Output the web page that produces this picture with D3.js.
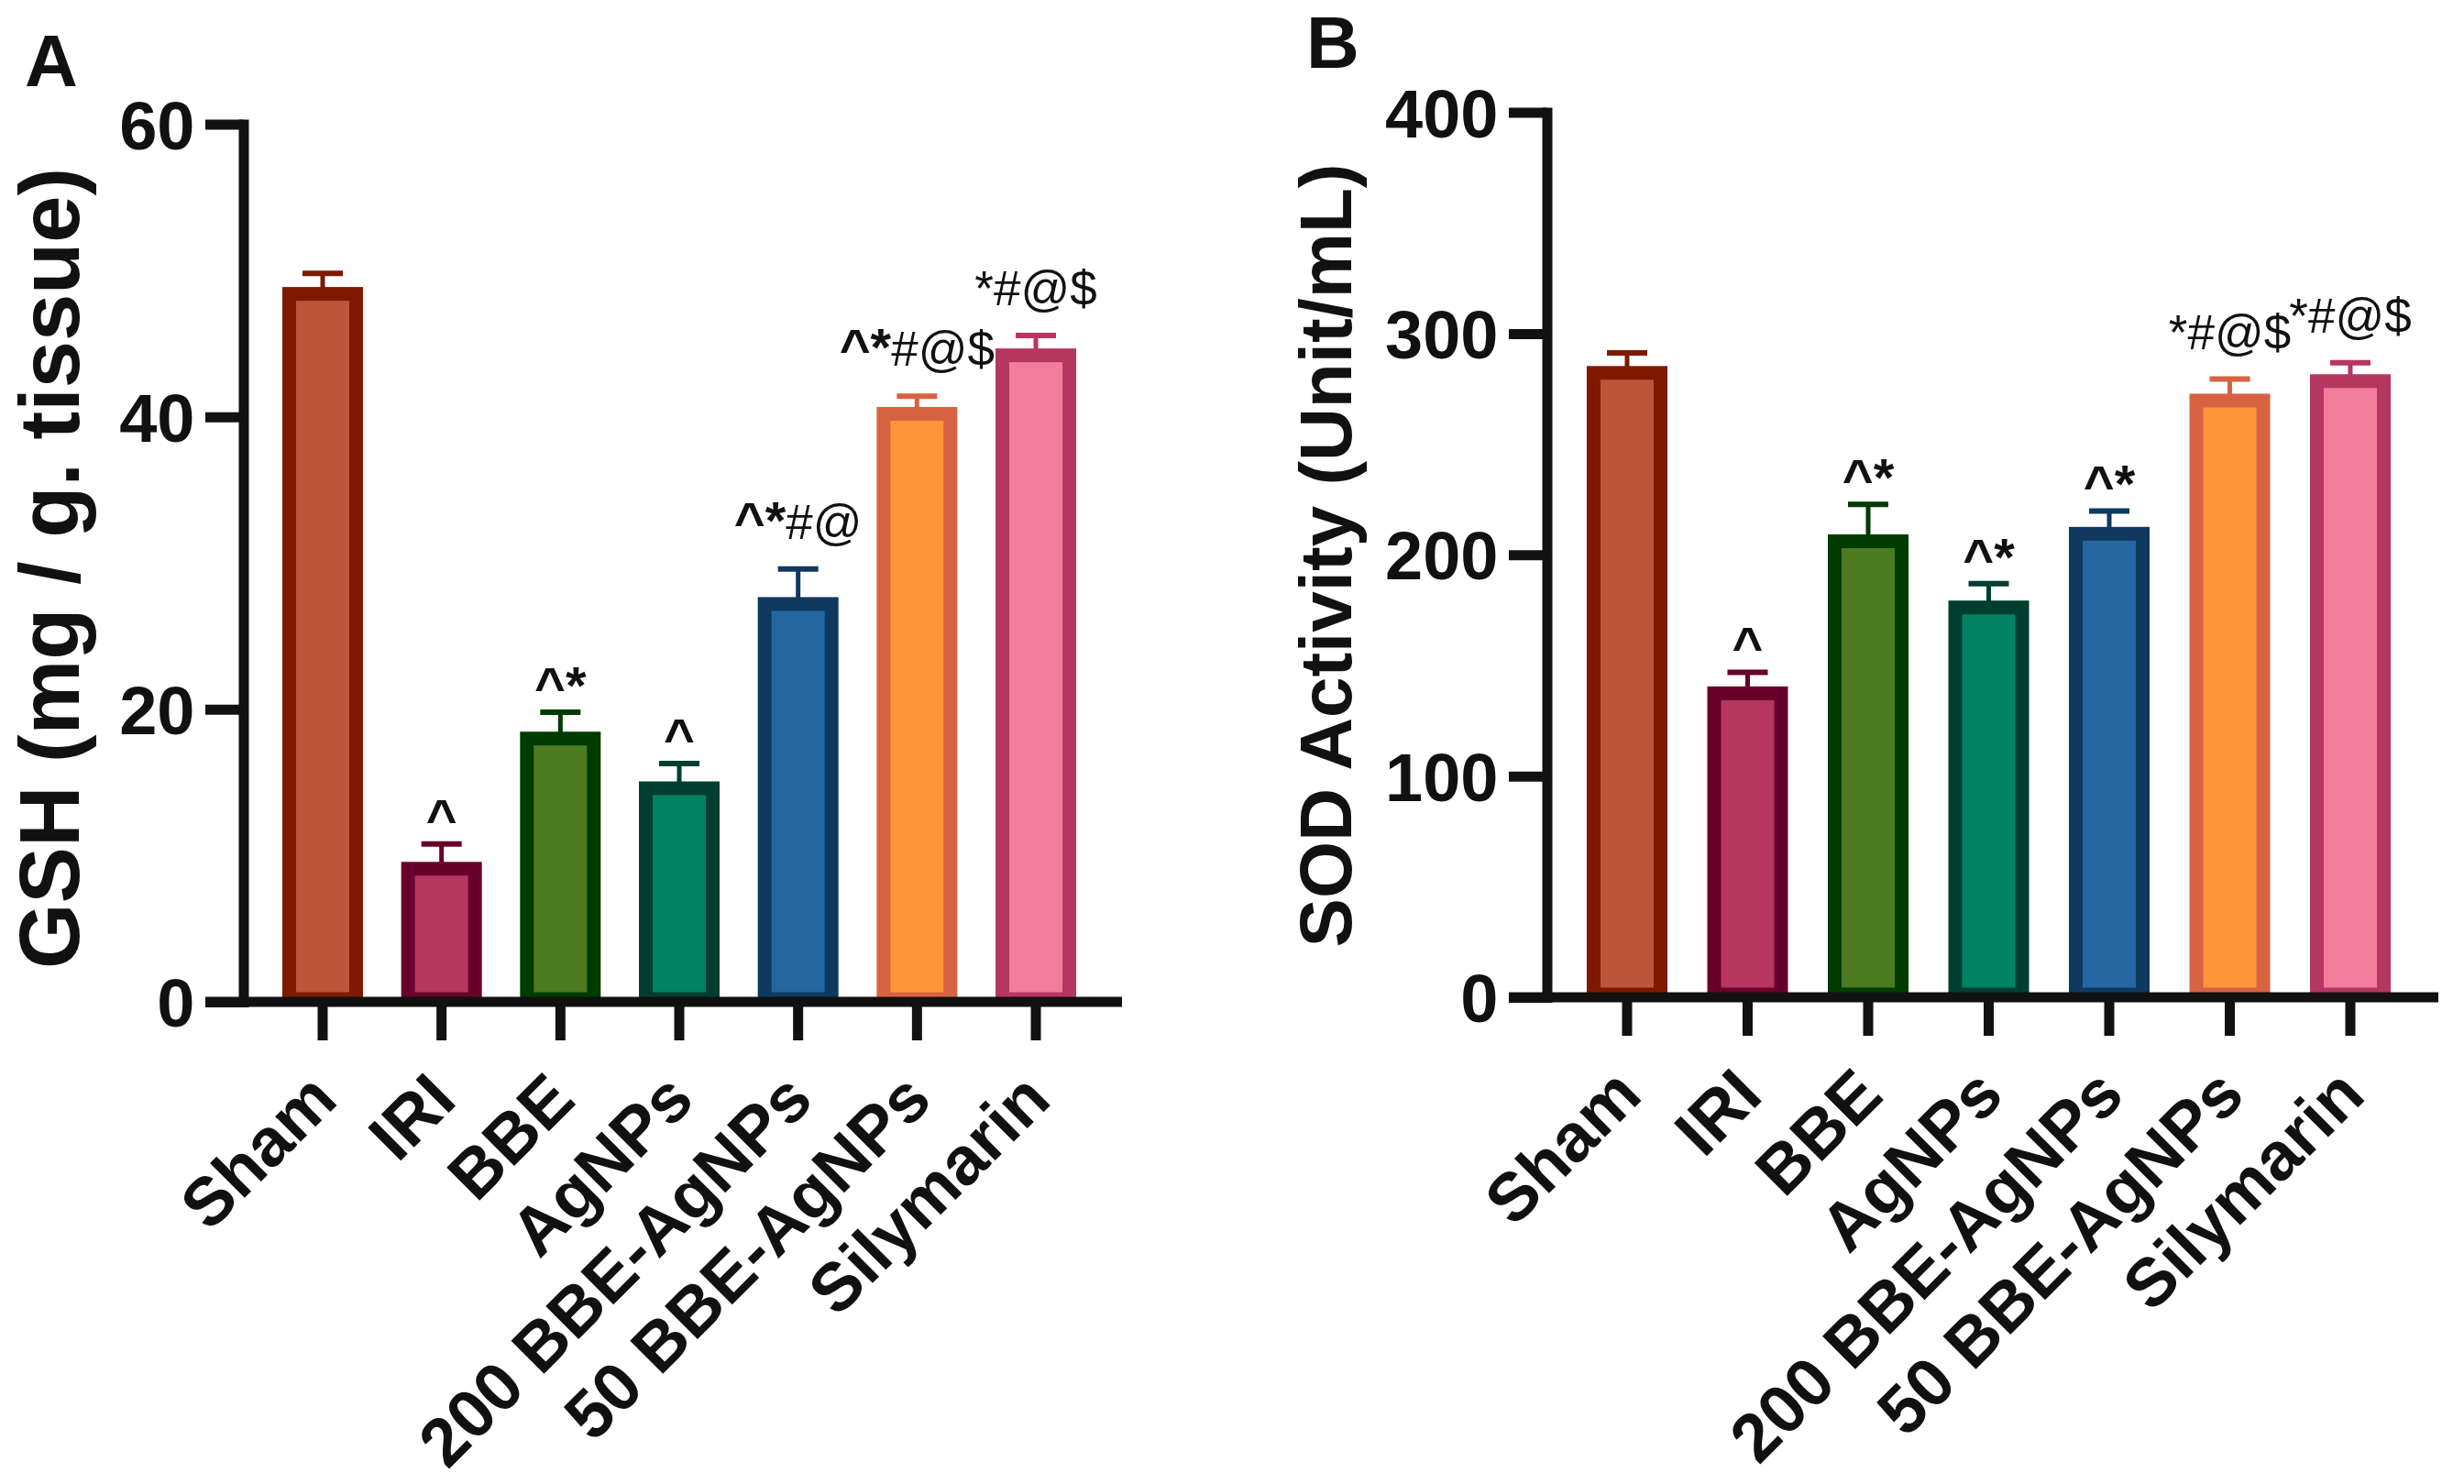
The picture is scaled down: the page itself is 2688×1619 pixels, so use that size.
<!DOCTYPE html>
<html>
<head>
<meta charset="utf-8">
<script src="https://cdn.jsdelivr.net/npm/d3@7"></script>
<style>
  html, body { margin: 0; padding: 0; background: #fff; }
  svg { display: block; }
</style>
</head>
<body>
<svg id="chart"></svg>
<script>
/* Two GraphPad-style bar panels: GSH (A) and SOD activity (B). */
var categories = ["Sham", "IRI", "BBE", "AgNPs", "200 BBE-AgNPs", "50 BBE-AgNPs", "Silymarin"];

var gshMean = [48.4, 9.1, 18.0, 14.6, 27.2, 40.2, 44.2];
var gshErr = [1.4, 1.7, 1.8, 1.7, 2.4, 1.2, 1.35];
var gshMarks = ["", "^", "^*", "^", "^*#@", "^*#@$", "*#@$"];
var gshTicks = [0, 20, 40, 60];

var sodMean = [282.2, 137.4, 206.1, 176.2, 209.5, 269.7, 278.5];
var sodErr = [9.0, 9.5, 16.7, 10.7, 10.3, 9.7, 8.3];
var sodMarks = ["", "^", "^*", "^*", "^*", "*#@$", "*#@$"];
var sodTicks = [0, 100, 200, 300, 400];

var fills = ["#bc553a", "#b5365e", "#4e7a20", "#008264", "#2366a1", "#fd953b", "#f17c9b"];
var edges = ["#7e1900", "#69002b", "#003b00", "#003f30", "#0f395f", "#d76343", "#b5375f"];

var W = 2688, H = 1619;
var FONT = "'Liberation Sans', Arial, Helvetica, sans-serif";
var INK = "#111111";

var svg = d3.select("#chart")
  .attr("width", W)
  .attr("height", H)
  .attr("viewBox", [0, 0, W, H]);
svg.append("rect").attr("width", W).attr("height", H).attr("fill", "#fff");

function drawPanel(p) {
  var g = svg.append("g");
  var n = categories.length;
  var pad = 1 - 88 / p.step;

  var y = d3.scaleLinear().domain([0, d3.max(p.ticks)]).range([p.zeroY, p.topY]);
  var x = d3.scaleBand()
    .domain(categories)
    .range([p.firstCx - p.step / 2, p.firstCx + (n - 0.5) * p.step])
    .paddingInner(pad)
    .paddingOuter(pad / 2);
  var bw = x.bandwidth();
  var sw = 15;

  var rows = categories.map(function (c, i) {
    return { cat: c, v: p.means[i], e: p.errs[i], mark: p.marks[i], i: i };
  });

  // error bars (upper only)
  var eg = g.append("g");
  eg.selectAll("line.stem")
    .data(rows)
    .join("line")
    .attr("class", "stem")
    .attr("x1", function (d) { return x(d.cat) + bw / 2; })
    .attr("x2", function (d) { return x(d.cat) + bw / 2; })
    .attr("y1", function (d) { return y(d.v); })
    .attr("y2", function (d) { return y(d.v + d.e); })
    .attr("stroke", function (d) { return edges[d.i]; })
    .attr("stroke-width", 5);
  eg.selectAll("line.cap")
    .data(rows)
    .join("line")
    .attr("class", "cap")
    .attr("x1", function (d) { return x(d.cat) + bw / 2 - 22; })
    .attr("x2", function (d) { return x(d.cat) + bw / 2 + 22; })
    .attr("y1", function (d) { return y(d.v + d.e); })
    .attr("y2", function (d) { return y(d.v + d.e); })
    .attr("stroke", function (d) { return edges[d.i]; })
    .attr("stroke-width", 6);

  // bars
  g.append("g").selectAll("rect")
    .data(rows)
    .join("rect")
    .attr("x", function (d) { return x(d.cat) + sw / 2; })
    .attr("width", bw - sw)
    .attr("y", function (d) { return y(d.v); })
    .attr("height", function (d) { return Math.max(0, y(0) - y(d.v) - 3); })
    .attr("fill", function (d) { return fills[d.i]; })
    .attr("stroke", function (d) { return edges[d.i]; })
    .attr("stroke-width", sw);

  // significance marks
  var ag = g.append("g").attr("font-family", FONT).attr("fill", INK).attr("text-anchor", "middle");
  rows.forEach(function (d) {
    if (!d.mark) return;
    var bold = "", rest = d.mark;
    if (d.mark.charAt(0) === "^") {
      var m = d.mark.match(/^[\^*]+/);
      bold = m[0];
      rest = d.mark.slice(bold.length);
    }
    var gap = rest.indexOf("#") >= 0 ? 33 : 9;
    var t = ag.append("text")
      .attr("x", x(d.cat) + bw / 2)
      .attr("y", y(d.v + d.e) - gap);
    if (bold) t.append("tspan").attr("font-weight", "bold").attr("font-size", 58).text(bold);
    if (rest) t.append("tspan").attr("font-weight", "normal").attr("font-size", 53).text(rest);
  });

  // y axis
  var ya = g.append("g")
    .attr("transform", "translate(" + p.axisX + ",0)")
    .call(d3.axisLeft(y).tickValues(p.ticks).tickSize(41.5).tickSizeOuter(0).tickPadding(11.5));
  ya.select(".domain")
    .attr("stroke", INK)
    .attr("stroke-width", 11)
    .attr("stroke-linecap", "square");
  ya.selectAll(".tick line").attr("stroke", INK).attr("stroke-width", 11);
  ya.selectAll(".tick text")
    .attr("fill", INK)
    .attr("font-family", FONT)
    .attr("font-weight", "bold")
    .attr("font-size", 74)
    .attr("dy", "0.36em");

  // x axis line and ticks
  g.append("line")
    .attr("x1", p.axisX - 41.5)
    .attr("x2", p.xEnd)
    .attr("y1", p.zeroY)
    .attr("y2", p.zeroY)
    .attr("stroke", INK)
    .attr("stroke-width", 11);
  var xa = g.append("g")
    .attr("transform", "translate(0," + p.zeroY + ")")
    .call(d3.axisBottom(x).tickSize(42).tickSizeOuter(0));
  xa.select(".domain").remove();
  xa.selectAll(".tick text").remove();
  xa.selectAll(".tick line").attr("stroke", INK).attr("stroke-width", 11);

  // rotated category labels
  g.append("g").selectAll("text")
    .data(categories)
    .join("text")
    .attr("transform", function (c) {
      return "translate(" + (x(c) + bw / 2) + "," + (p.zeroY + 91) + ") rotate(-45)";
    })
    .attr("text-anchor", "end")
    .attr("dy", "0.36em")
    .attr("font-family", FONT)
    .attr("font-weight", "bold")
    .attr("font-size", 74)
    .attr("fill", INK)
    .text(function (c) { return c; });

  // axis title
  g.append("text")
    .attr("transform", "translate(" + p.titleX + "," + p.titleY + ") rotate(-90)")
    .attr("text-anchor", "middle")
    .attr("font-family", FONT)
    .attr("font-weight", "bold")
    .attr("font-size", p.titleSize)
    .attr("fill", INK)
    .text(p.title);

  // panel letter
  g.append("text")
    .attr("x", p.letterX)
    .attr("y", p.letterY)
    .attr("font-family", FONT)
    .attr("font-weight", "bold")
    .attr("font-size", 80)
    .attr("fill", INK)
    .text(p.letter);
}

drawPanel({
  letter: "A", letterX: 27, letterY: 94,
  axisX: 265.5, zeroY: 1093, topY: 135.5,
  firstCx: 352, step: 129.67, xEnd: 1224,
  ticks: gshTicks, means: gshMean, errs: gshErr, marks: gshMarks,
  title: "GSH (mg / g. tissue)", titleX: 86, titleY: 620, titleSize: 92
});

drawPanel({
  letter: "B", letterX: 1425, letterY: 74,
  axisX: 1687.5, zeroY: 1088, topY: 122.5,
  firstCx: 1775, step: 131.5, xEnd: 2660,
  ticks: sodTicks, means: sodMean, errs: sodErr, marks: sodMarks,
  title: "SOD Activity (Unit/mL)", titleX: 1474, titleY: 606, titleSize: 80
});
</script>
</body>
</html>
